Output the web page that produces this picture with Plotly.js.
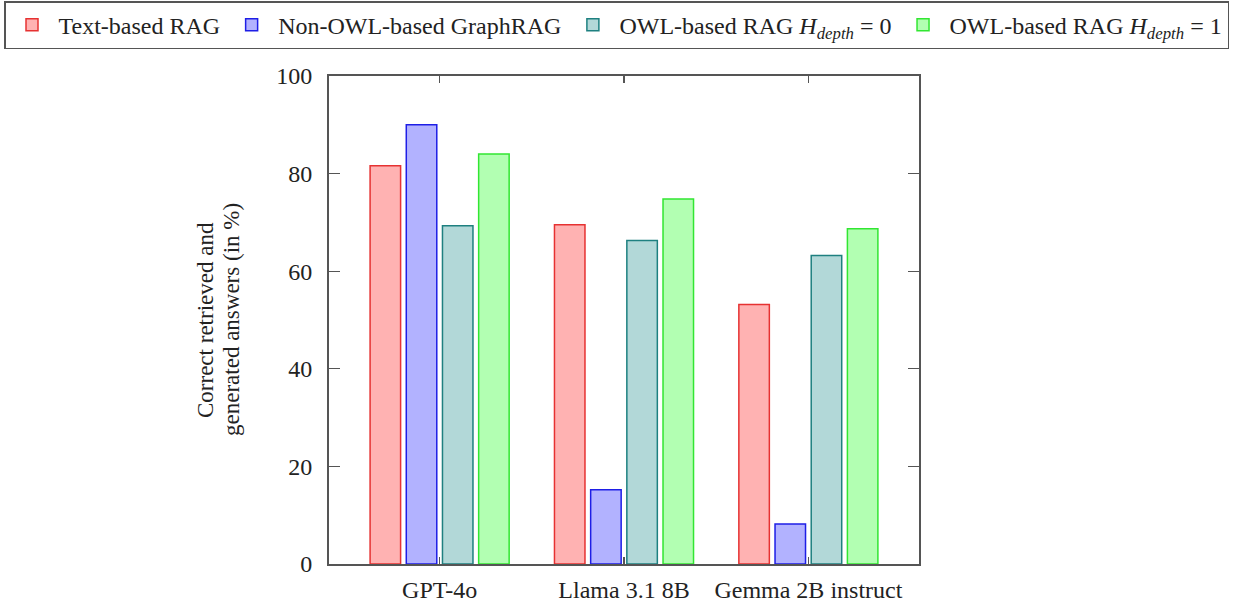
<!DOCTYPE html>
<html><head><meta charset="utf-8">
<script src="https://cdn.plot.ly/plotly-3.0.1.min.js"></script>
<style>html,body{margin:0;padding:0;background:#fff;}</style>
</head><body><div id="chart" style="width:1238px;height:604px;"></div>
<script>
var categories = ["GPT-4o", "Llama 3.1 8B", "Gemma 2B instruct"];
var seriesNames = ["Text-based RAG", "Non-OWL-based GraphRAG", "OWL-based RAG <i>H</i><sub><i>depth</i></sub> = 0", "OWL-based RAG <i>H</i><sub><i>depth</i></sub> = 1"];
var yTitleLines = ["Correct retrieved and", "generated answers (in %)"];
var textRAG = [81.6, 69.5, 53.2];
var nonOwlGraphRAG = [90.0, 15.2, 8.2];
var owlDepth0 = [69.3, 66.3, 63.2];
var owlDepth1 = [84.0, 74.8, 68.7];
var fills = ["rgb(255,178,178)", "rgb(178,178,255)", "rgb(178,216,216)", "rgb(178,255,178)"];
var lines = ["rgb(230,50,50)", "rgb(30,30,230)", "rgb(30,128,128)", "rgb(50,230,50)"];
var values = [textRAG, nonOwlGraphRAG, owlDepth0, owlDepth1];
var traces = values.map(function(v, i){
  return {type:"bar", x:[0,1,2], y:v, name:seriesNames[i],
    marker:{color:fills[i], line:{color:lines[i], width:1.5}}, hoverinfo:"y"};
});
var ff = "Liberation Serif, Times New Roman, serif";
var ink = "#222";
var axcol = "#555";
var W = 1238, ml = 4, mr = 2;
function px2paper(px){ return (px - ml) / (W - ml - mr); }
var annotations = [
  {text:yTitleLines[0], x:px2paper(205), y:0.5, xref:"paper", yref:"paper",
   xanchor:"center", yanchor:"middle", textangle:-90, showarrow:false,
   font:{family:ff, size:23, color:ink}},
  {text:yTitleLines[1], x:px2paper(231), y:0.5, xref:"paper", yref:"paper",
   xanchor:"center", yanchor:"middle", textangle:-90, showarrow:false,
   font:{family:ff, size:23, color:ink}}
];
var layout = {
  width:W, height:604,
  margin:{l:ml, r:mr, t:75, b:40},
  paper_bgcolor:"#fff", plot_bgcolor:"#fff",
  font:{family:ff, size:24, color:ink},
  barmode:"group", bargap:0.215, bargroupgap:0.157,
  xaxis:{domain:[px2paper(329), px2paper(919)], range:[-0.6, 2.6], tickvals:[0,1,2], ticktext:categories,
    showline:true, mirror:"ticks", linecolor:axcol, linewidth:2,
    ticks:"inside", ticklen:7, tickwidth:1.2, tickcolor:axcol, showgrid:false, zeroline:false,
    ticklabelstandoff:3,
    tickfont:{family:ff, size:24, color:ink}},
  yaxis:{range:[0,100], tickvals:[0,20,40,60,80,100],
    showline:true, mirror:"ticks", linecolor:axcol, linewidth:2,
    ticks:"inside", ticklen:11, tickwidth:1.2, tickcolor:axcol, showgrid:false, zeroline:false,
    ticklabelstandoff:10,
    tickfont:{family:ff, size:24, color:ink}},
  annotations:annotations,
  legend:{orientation:"h", x:0, xanchor:"left", y:1.151, yanchor:"top",
    bordercolor:axcol, borderwidth:1.5, bgcolor:"#fff",
    font:{family:ff, size:24, color:ink}, itemwidth:43, tracegroupgap:0},
  showlegend:true
};
Plotly.newPlot("chart", traces, layout, {displayModeBar:false, staticPlot:true});
</script></body></html>
